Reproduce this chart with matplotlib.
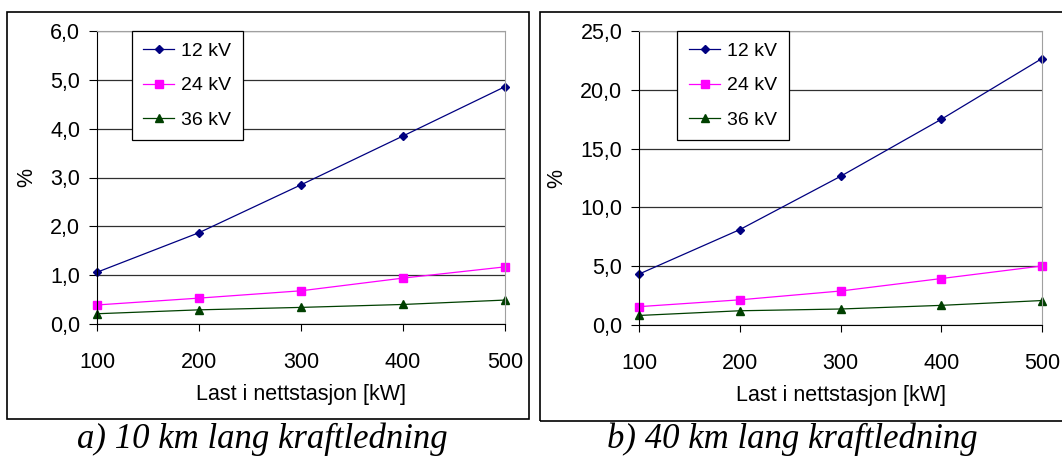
import matplotlib.pyplot as plt
from matplotlib.patches import Rectangle

# Last i nettstasjon [kW]
load_kw = [100, 200, 300, 400, 500]

# a) 10 km kraftledning, spenningsfall i %
a_12kv = [1.06, 1.87, 2.85, 3.85, 4.86]
a_24kv = [0.39, 0.53, 0.68, 0.94, 1.17]
a_36kv = [0.21, 0.29, 0.34, 0.40, 0.49]

# b) 40 km kraftledning
b_12kv = [4.33, 8.11, 12.64, 17.49, 22.66]
b_24kv = [1.56, 2.14, 2.89, 3.95, 5.02]
b_36kv = [0.81, 1.21, 1.36, 1.67, 2.08]

series_labels = ["12 kV", "24 kV", "36 kV"]
captions = ["a) 10 km lang kraftledning", "b) 40 km lang kraftledning"]

W, H = 1062, 457
fig = plt.figure(figsize=(W / 100, H / 100), dpi=100)
plt.rcParams['font.family'] = ['Liberation Sans', 'DejaVu Sans']


def px_axes(x0, y0, x1, y1):
    # pixel box (top-left origin) -> figure coords
    return fig.add_axes([x0 / W, 1 - y1 / H, (x1 - x0) / W, (y1 - y0) / H])


def frame(x0, y0, x1, y1):
    fig.patches.append(Rectangle((x0 / W, 1 - y1 / H), (x1 - x0) / W, (y1 - y0) / H,
                                 transform=fig.transFigure, fill=False,
                                 edgecolor="black", linewidth=1.2))


styles = [dict(color="#000080", marker="D", markersize=4.5),
          dict(color="#FF00FF", marker="s", markersize=6),
          dict(color="#004000", marker="^", markersize=5.5)]


def panel(ax, data, ymax, ystep, legend_x):
    for vals, lab, st in zip(data, series_labels, styles):
        ax.plot(load_kw, vals, linewidth=0.9, label=lab, clip_on=False, **st)
    ax.set_xlim(100, 500)
    ax.set_ylim(0, ymax)
    ticks = [i * ystep for i in range(int(round(ymax / ystep)) + 1)]
    ax.set_yticks(ticks)
    ax.set_yticklabels([("%.1f" % t).replace(".", ",") for t in ticks])
    ax.set_xticks(load_kw)
    ax.grid(axis="y", color="#303030", linewidth=0.9)
    ax.set_axisbelow(True)
    for s in ["top", "right"]:
        ax.spines[s].set_color("#a0a0a0")
    for s in ["left", "bottom"]:
        ax.spines[s].set_color("black")
    ax.tick_params(axis="y", length=6, width=0.8, pad=6, labelsize=15.5)
    ax.tick_params(axis="x", length=5, width=0.8, pad=15, labelsize=15.5)
    ax.set_xlabel("Last i nettstasjon [kW]", fontsize=15.5, labelpad=8)
    ax.set_ylabel("%", fontsize=15.5, labelpad=9)

    # legend box sits against the top of the plot area
    leg = ax.legend(loc="upper left", bbox_to_anchor=(legend_x, 1.0),
                    fontsize=14, frameon=True, fancybox=False, borderaxespad=0,
                    handlelength=1.6, labelspacing=0.85, handletextpad=0.35,
                    borderpad=0.6)
    leg.get_frame().set_edgecolor("black")
    leg.get_frame().set_linewidth(0.9)
    leg.get_frame().set_alpha(None)
    leg.get_frame().set_facecolor("white")


ax1 = px_axes(97, 31, 505, 324)
panel(ax1, [a_12kv, a_24kv, a_36kv], 6.0, 1.0, 0.085)
ax2 = px_axes(639, 31, 1042, 325)
panel(ax2, [b_12kv, b_24kv, b_36kv], 25.0, 5.0, 0.095)

frame(7, 12, 529, 419)
frame(540, 12, 1070, 421)

for cx, cap in zip([262, 792], captions):
    fig.text(cx / W, 1 - 448 / H, cap, ha="center", va="baseline",
             fontsize=25, style="italic", family=["Liberation Serif", "DejaVu Serif"])

fig.savefig("out.png", dpi=100)
